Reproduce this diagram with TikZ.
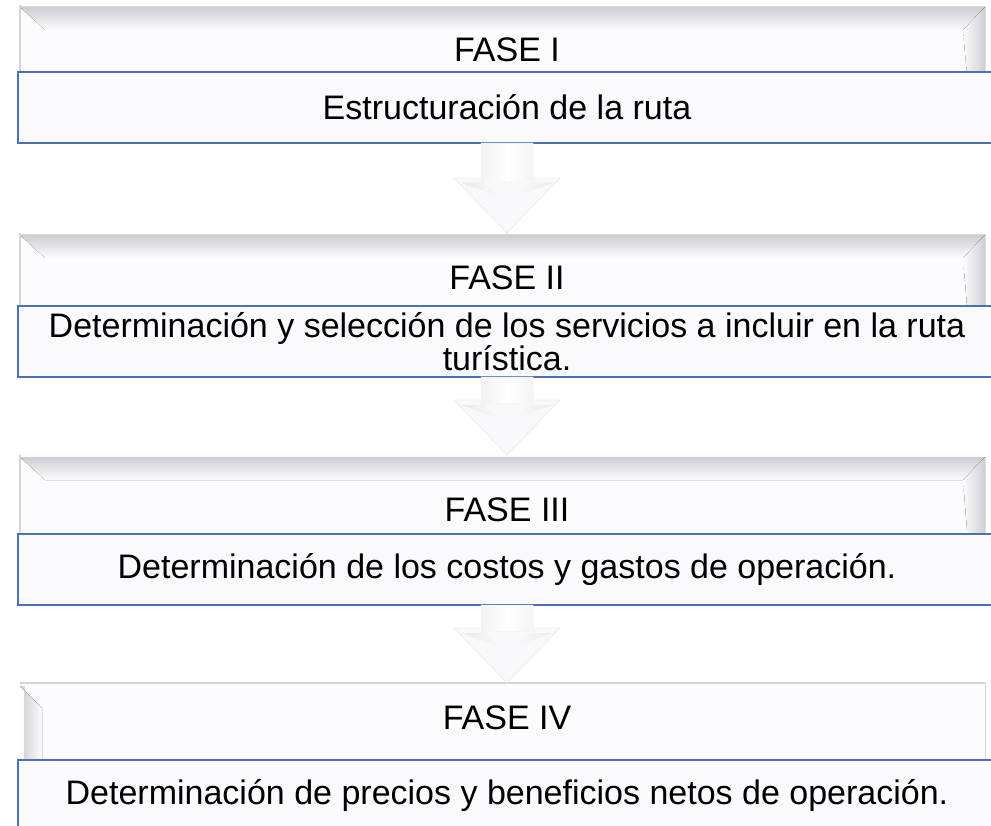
\documentclass[tikz,border=0pt]{standalone}
\usepackage{fontspec}
\setmainfont{Liberation Sans}
\usepackage{tikz}
\usetikzlibrary{calc}
\definecolor{boxblue}{HTML}{4C70B6}
\definecolor{boxfill}{HTML}{FAF9FD}
\definecolor{framewhite}{HTML}{FCFCFE}
\definecolor{bevelgrey}{HTML}{CDCDD3}
\definecolor{edgegrey}{HTML}{D3D6D9}
\definecolor{arrowwhite}{HTML}{F8F8FB}

\newcommand{\topbevel}[1]{%
	\fill[top color=bevelgrey, bottom color=framewhite] ([yshift=-2pt]#1.north west) -- ([yshift=-2pt]#1.north east) -- ([shift={(-22pt,-25pt)}]#1.north east) -- ([shift={(25pt,-25pt)}]#1.north west) -- cycle;
	\fill[left color=framewhite, right color=bevelgrey] ([yshift=-2pt]#1.north east) -- (#1.south east) -- ([xshift=-12pt]#1.south east) -- ([shift={(-22pt,-25pt)}]#1.north east) -- cycle;
	\draw[edgegrey, line width=1.5pt] (#1.north west) -- (#1.south west);}
\newcommand{\leftbevel}[1]{%
	\draw[edgegrey, line width=2pt] (#1.north west) -- (#1.north east);
	\fill[left color=bevelgrey, right color=framewhite] ([yshift=-3pt]#1.north west) -- ([shift={(22pt,-25pt)}]#1.north west) -- ([xshift=22pt]#1.south west) -- ([xshift=4pt]#1.south west) -- ([shift={(4pt,-3pt)}]#1.north west) -- cycle;
	\draw[edgegrey, line width=1pt] (#1.north east) -- (#1.south east);}
\newcommand{\phasearrow}[2]{%
	\path let \p1=(#1.south), \p2=(#2.north) in
		[fill=arrowwhite, draw=black!10] (\x1-26pt,\y1) -- (\x1+26pt,\y1) -- (\x1+26pt,\y2+55pt) -- (\x1+53pt,\y2+55pt) -- (\x1,\y2) -- (\x1-53pt,\y2+55pt) -- (\x1-26pt,\y2+55pt) -- cycle;
	\path let \p1=(#1.south), \p2=(#2.north) in
		[left color=black!9, right color=black!8, middle color=white] (\x1-19pt,\y1-1pt) rectangle (\x1+26pt,\y2+52pt)
		[fill=black!16] (\x1-26pt,\y1-1pt) rectangle (\x1-19pt,\y2+50pt)
		[fill=black!14] (\x1-45pt,\y2+50pt) -- (\x1-24pt,\y2+50pt) -- (\x1-10pt,\y2+38pt) -- cycle
		[fill=black!11] (\x1+24pt,\y2+50pt) -- (\x1+45pt,\y2+50pt) -- (\x1+10pt,\y2+38pt) -- cycle;}

\begin{document}
\begin{tikzpicture}[x=1pt,y=-1pt,
	frame/.style={rectangle, fill=framewhite, inner sep=0pt, outer sep=0pt, anchor=north west, minimum width=965pt},
	phasebox/.style={rectangle, fill=boxfill, draw=boxblue, line width=2.2pt, minimum width=978pt, minimum height=71pt, inner sep=0pt, outer sep=0pt, align=center, font=\fontsize{34}{33}\selectfont},
	phaselabel/.style={inner sep=0pt, font=\fontsize{34}{33}\selectfont}]
	\useasboundingbox (0,0) rectangle (991,826);
	\fill[white] (0,0) rectangle (991,826);

	\node[frame, minimum height=138pt] (frameI) at (20,5) {};
	\node[frame, minimum height=144pt] (frameII) at (20,233) {};
	\node[frame, minimum height=150pt] (frameIII) at (20,455) {};
	\node[frame, minimum height=147pt] (frameIV) at (20,683) {};
	\topbevel{frameI}
	\topbevel{frameII}
	\topbevel{frameIII}
	\leftbevel{frameIV}

	\node[phaselabel] (faseI) at (507,50) {FASE I};
	\node[phaselabel] (faseII) at (507,278) {FASE II};
	\node[phaselabel] (faseIII) at (507,510) {FASE III};
	\node[phaselabel] (faseIV) at (507,718) {FASE IV};

	\node[phasebox] (boxI) at (507,107.5) {Estructuración de la ruta};
	\node[phasebox] (boxII) at (507,341.5) {Determinación y selección de los servicios a incluir en la ruta\\turística.};
	\node[phasebox] (boxIII) at (507,569.5) {Determinación de los costos y gastos de operación.};
	\node[phasebox] (boxIV) at (507,795.5) {Determinación de precios y beneficios netos de operación.};

	\phasearrow{boxI}{frameII}
	\phasearrow{boxII}{frameIII}
	\phasearrow{boxIII}{frameIV}
\end{tikzpicture}
\end{document}
